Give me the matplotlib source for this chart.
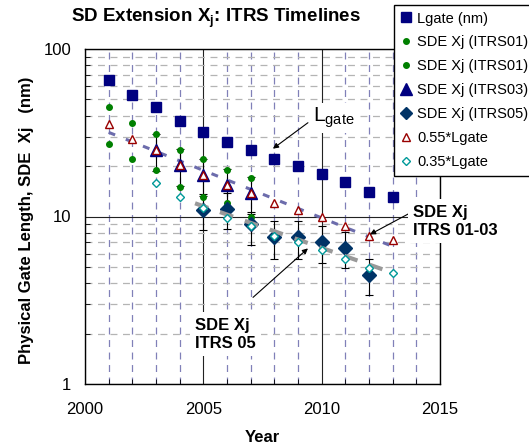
import numpy as np
import matplotlib
matplotlib.use("Agg")
from matplotlib import pyplot as plt
from matplotlib.lines import Line2D
from matplotlib.ticker import FixedLocator, LogLocator, NullFormatter

plt.rcParams["font.family"] = ["Liberation Sans", "DejaVu Sans"]
plt.rcParams["mathtext.fontset"] = "custom"
plt.rcParams["mathtext.rm"] = "Liberation Sans"
plt.rcParams["mathtext.bf"] = "Liberation Sans:bold"
plt.rcParams["lines.scale_dashes"] = False

# ITRS physical gate length (nm)
years = [2001, 2002, 2003, 2004, 2005, 2006, 2007, 2008, 2009, 2010, 2011, 2012, 2013]
lgate = [65, 53, 45, 37, 32, 28, 25, 22, 20, 18, 16, 14, 13]

# SDE junction depth, ITRS 2001 (upper and lower bounds)
itrs01_years = [2001, 2002, 2003, 2004, 2005, 2006, 2007]
itrs01_hi = [45, 36, 31, 25, 22, 19, 17]
itrs01_lo = [27, 22, 19, 15, 13, 12, 10]

# ITRS 2003 with its range
itrs03_years = [2003, 2004, 2005, 2006, 2007]
itrs03 = [24.8, 20.4, 17.6, 15.4, 13.8]
itrs03_hi = [31.2, 25.4, 22.0, 19.2, 17.2]
itrs03_lo = [18.6, 15.2, 13.2, 11.6, 10.3]

# ITRS 2005 with its range
itrs05_years = [2005, 2006, 2007, 2008, 2009, 2010, 2011, 2012]
itrs05 = [10.9, 11.1, 9.0, 7.5, 7.5, 7.0, 6.5, 4.5]
itrs05_hi = [13.7, 13.9, 10.6, 9.4, 9.4, 8.75, 8.1, 5.6]
itrs05_lo = [8.3, 8.4, 6.8, 5.6, 5.6, 5.3, 4.9, 3.4]

# scaled gate length rules of thumb
lgate_055 = [35.8, 29.2, 24.8, 20.4, 17.6, 15.4, 13.8, 12.1, 11.0, 9.9, 8.8, 7.7, 7.2]
years_035 = [2003, 2004, 2005, 2006, 2007, 2008, 2009, 2010, 2011, 2012, 2013]
lgate_035 = [15.8, 13.0, 11.2, 9.8, 8.8, 7.7, 7.0, 6.3, 5.6, 4.9, 4.6]

NAVY = "#000080"
DKBLUE = "#003366"
GREEN = "#008000"
RED = "#990000"
TEAL = "#009999"

fig = plt.figure(figsize=(5.29, 4.47), dpi=100)
ax = fig.add_axes([85 / 529, 1 - 384 / 447, 355 / 529, 335 / 447])

ax.set_yscale("log")
ax.set_xlim(2000, 2015)
ax.set_ylim(1, 100)

# grid: solid at majors, dashed at minors
ax.xaxis.set_major_locator(FixedLocator([2000, 2005, 2010, 2015]))
ax.xaxis.set_minor_locator(FixedLocator(range(2001, 2015)))
ax.yaxis.set_major_locator(FixedLocator([1, 10, 100]))
ax.yaxis.set_minor_locator(LogLocator(base=10, subs=range(2, 10)))
ax.yaxis.set_minor_formatter(NullFormatter())
ax.set_yticklabels(["1", "10", "100"])
ax.set_axisbelow(True)
ax.grid(which="major", color="#222222", lw=0.8, ls="-")
ax.xaxis.grid(which="minor", color="#8080b8", lw=0.9, ls=(0, (5, 4)))
ax.yaxis.grid(which="minor", color="#b4b4b4", lw=0.9, ls=(0, (5, 4)))
ax.tick_params(which="both", direction="in", labelsize=12)
ax.tick_params(axis="y", pad=10)
ax.tick_params(axis="x", pad=13)
ax.tick_params(which="major", length=0)
ax.tick_params(which="minor", length=3.5, color="black")
for s in ax.spines.values():
    s.set_linewidth(1.0)
    s.set_color("black")

yr = np.array(years, dtype=float)

# exponential trend through the 0.55*Lgate points
k1 = np.polyfit(yr, np.log10(lgate_055), 1)
tx = np.linspace(years[0], years[-1], 50)
ax.plot(tx, 10 ** np.polyval(k1, tx), color="#6c6cac", lw=2.2,
        ls=(0, (5, 8.3)), zorder=2)

ax.plot(years, lgate, "s", color=NAVY, ms=7.6, mec=NAVY, zorder=3)
ax.plot(itrs01_years, itrs01_hi, "o", color=GREEN, ms=4, zorder=3)
ax.plot(itrs01_years, itrs01_lo, "o", color=GREEN, ms=4, zorder=3)

e3 = [np.subtract(itrs03, itrs03_lo), np.subtract(itrs03_hi, itrs03)]
ax.errorbar(itrs03_years, itrs03, yerr=e3, fmt="none", ecolor="black",
            elinewidth=0.8, capsize=3, capthick=0.8, zorder=2.5)
ax.plot(itrs03_years, itrs03, "^", color=NAVY, ms=8.5, zorder=4)

e5 = [np.subtract(itrs05, itrs05_lo), np.subtract(itrs05_hi, itrs05)]
ax.errorbar(itrs05_years, itrs05, yerr=e5, fmt="none", ecolor="black",
            elinewidth=0.8, capsize=3, capthick=0.8, zorder=2.5)
ax.plot(itrs05_years, itrs05, "D", color=DKBLUE, ms=7.5, zorder=3)

# exponential trend through the ITRS05 points
y5 = np.array(itrs05_years, dtype=float)
k5 = np.polyfit(y5, np.log10(itrs05), 1)
gx = np.linspace(2004.65, 2013.05, 50)
ax.plot(gx, 10 ** np.polyval(k5, gx), color="#999999", lw=3,
        ls=(0, (10, 9)), zorder=3.5)

ax.plot(years, lgate_055, "^", mfc="white", mec=RED, mew=1.0, ms=5.5, zorder=5)
ax.plot(years_035, lgate_035, "D", mfc="white", mec=TEAL, mew=1.0, ms=3.6, zorder=5)

# callouts
box = dict(facecolor="white", edgecolor="none", pad=2)
ax.annotate("", xy=(2007.94, 25.4), xytext=(2009.42, 36.3),
            arrowprops=dict(arrowstyle="-|>", color="black", lw=0.8,
                            mutation_scale=8, shrinkA=0, shrinkB=0), zorder=6)
ax.text(2009.63, 36.8, r"L$_{\mathrm{gate}}$", fontsize=15, ha="left",
        va="baseline", bbox=box, zorder=6)

ax.annotate("", xy=(2012.04, 7.81), xytext=(2013.77, 10.56),
            arrowprops=dict(arrowstyle="-|>", color="black", lw=0.8,
                            mutation_scale=8, shrinkA=0, shrinkB=0), zorder=6)
ax.text(2013.86, 9.34, "SDE Xj\nITRS 01-03", fontsize=12, fontweight="bold",
        ha="left", va="center", linespacing=1.25, bbox=dict(box, pad=4), zorder=6)

ax.annotate("", xy=(2009.42, 6.45), xytext=(2007.10, 3.29),
            arrowprops=dict(arrowstyle="-|>", color="black", lw=0.8,
                            mutation_scale=8, shrinkA=0, shrinkB=0), zorder=6)
ax.text(2004.65, 1.98, "SDE Xj\nITRS 05", fontsize=12, fontweight="bold",
        ha="left", va="center", linespacing=1.25, bbox=dict(box, pad=4), zorder=6)

fig.text(262 / 529, 1 - 437 / 447, "Year", fontsize=12, fontweight="bold",
         ha="center", va="center")
fig.text(27 / 529, 1 - 220 / 447, "Physical Gate Length, SDE  Xj   (nm)",
         rotation=90, fontsize=12, fontweight="bold", ha="center", va="center")
fig.text(216 / 529, 1 - 18 / 447, r"SD Extension X$_{\mathbf{j}}$: ITRS Timelines",
         fontsize=13.5, fontweight="bold", ha="center", va="center")

handles = [
    Line2D([], [], ls="none", marker="s", color=NAVY, ms=7),
    Line2D([], [], ls="none", marker="o", color=GREEN, ms=4),
    Line2D([], [], ls="none", marker="o", color=GREEN, ms=4),
    Line2D([], [], ls="none", marker="^", color=NAVY, ms=8.5),
    Line2D([], [], ls="none", marker="D", color=DKBLUE, ms=6),
    Line2D([], [], ls="none", marker="^", mfc="white", mec=RED, mew=1.0, ms=5.5),
    Line2D([], [], ls="none", marker="D", mfc="white", mec=TEAL, mew=1.0, ms=3.6),
]
labels = ["Lgate (nm)", "SDE Xj (ITRS01)", "SDE Xj (ITRS01)", "SDE Xj (ITRS03)",
          "SDE Xj (ITRS05)", "0.55*Lgate", "0.35*Lgate"]
leg = fig.legend(handles, labels, loc="upper left",
                 bbox_to_anchor=(394 / 529, 1 - 5 / 447), fontsize=10.5,
                 frameon=True, fancybox=False, framealpha=1, edgecolor="black",
                 handlelength=0.8, handletextpad=0.35, labelspacing=0.68,
                 borderpad=0.45, borderaxespad=0)
leg.get_frame().set_linewidth(1.0)
leg.set_zorder(10)

fig.savefig("out.png", dpi=100)
